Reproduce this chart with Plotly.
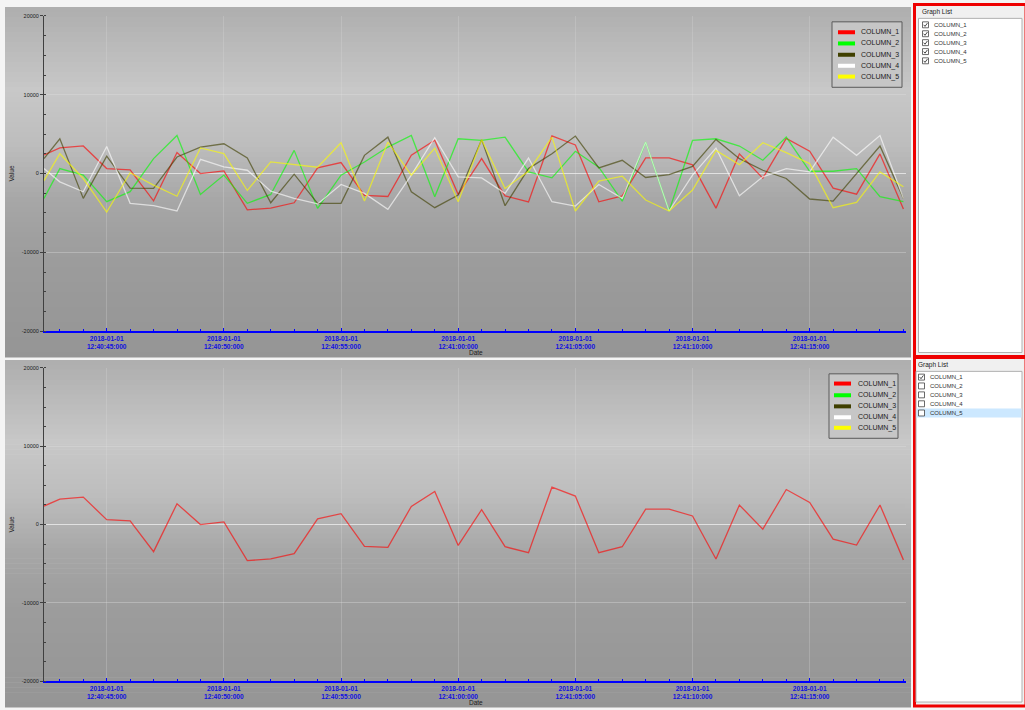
import plotly.graph_objects as go

# ---------------- data ----------------
DATE = "2018-01-01"
TIME_OF_DAY = ["12:40:42.324", "12:40:43", "12:40:44", "12:40:45", "12:40:46", "12:40:47",
               "12:40:48", "12:40:49", "12:40:50", "12:40:51", "12:40:52", "12:40:53",
               "12:40:54", "12:40:55", "12:40:56", "12:40:57", "12:40:58", "12:40:59",
               "12:41:00", "12:41:01", "12:41:02", "12:41:03", "12:41:04", "12:41:05",
               "12:41:06", "12:41:07", "12:41:08", "12:41:09", "12:41:10", "12:41:11",
               "12:41:12", "12:41:13", "12:41:14", "12:41:15", "12:41:16", "12:41:17",
               "12:41:18", "12:41:19"]

COLUMN_1 = [2360, 3250, 3500, 630, 460, -3460, 2660, 0, 340, -4600, -4390, -3710, 720, 1390,
            -2780, -2910, 2320, 4220, -2660, 1900, -2830, -3590, 4770, 3630, -3590, -2830,
            1980, 1980, 1100, -4390, 2490, -590, 4470, 2830, -1860, -2620, 2490, -4510]
COLUMN_2 = [-3150, 630, -200, -3570, -2300, 1900, 4830, -2650, -200, -3780, -2650, 2940, -4410,
            -200, 1470, 3360, 4830, -2940, 4410, 4200, 4620, 200, -550, 2820, 800, -3500,
            3990, -4750, 4200, 4410, 3490, 1680, 4620, 290, 290, 630, -2940, -3570]
COLUMN_3 = [1900, 4410, -3150, 2200, -1850, -1890, 2100, 3360, 3780, 1970, -3700, -80, -3780,
            -3780, 2310, 4620, -2310, -4330, -2730, 4300, -4080, 630, 2520, 4750, 710, 1680,
            -500, -130, 900, 4330, 1890, 420, -630, -3230, -3490, 0, 3490, -3150]
COLUMN_4 = [630, -1050, -2310, 3440, -3780, -4080, -4750, 1800, 840, 420, -2230, -3150, -3850,
            -1390, -2520, -4540, -200, 4540, -420, -550, -2520, 1970, -3570, -4120, -1390,
            -3150, 3990, -4750, -200, 3230, -2820, -420, 630, 210, 4620, 2310, 4830, -3150]
COLUMN_5 = [-900, 2520, -630, -4880, 100, -1470, -2880, 3250, 2520, -2150, 1470, 1150, 800,
            3900, -3490, 3990, -200, 3230, -3570, 4300, -1890, 300, 4620, -4750, -970, -340,
            -3360, -4750, -2100, 2940, 1130, 3910, 2650, 1260, -4330, -3650, 210, -1680]

SERIES_NAMES = ["COLUMN_1", "COLUMN_2", "COLUMN_3", "COLUMN_4", "COLUMN_5"]
SERIES_VALUES = [COLUMN_1, COLUMN_2, COLUMN_3, COLUMN_4, COLUMN_5]
SERIES_COLORS = ["#ff0000", "#00ff00", "#404000", "#ffffff", "#ffff00"]
CHECKED_TOP = [True, True, True, True, True]
CHECKED_BOTTOM = [True, False, False, False, False]

X_TICK_TIMES = ["12:40:45", "12:40:50", "12:40:55", "12:41:00", "12:41:05", "12:41:10", "12:41:15"]
X_RANGE_END = "12:41:19.11"
Y_TICK_VALUES = [-20000, -10000, 0, 10000, 20000]
Y_TICK_LABELS = ["-20000", "-10000", "0", "10000", "20000"]
X_TITLE = "Date"
Y_TITLE = "Value"
LIST_TITLE = "Graph List"

TIMES = [f"{DATE} {t}" for t in TIME_OF_DAY]

# ---------------- helpers ----------------
W, H = 1025, 710


def px(x):
    return x / W


def py(y):
    return 1 - y / H


FONT = "Liberation Sans, Arial, sans-serif"
shapes = []
annotations = []

# gradient panel backgrounds
STOPS = [(0.0, 174), (0.24, 200), (0.40, 188), (0.56, 166), (0.72, 156), (1.0, 149)]


def gray_at(f):
    for (f0, g0), (f1, g1) in zip(STOPS[:-1], STOPS[1:]):
        if f0 <= f <= f1:
            return g0 + (g1 - g0) * (f - f0) / (f1 - f0)
    return STOPS[-1][1]


def gradient_panel(x0, y0, x1, y1, n=70):
    h = (y1 - y0) / n
    for i in range(n):
        g = int(round(gray_at((i + 0.5) / n)))
        shapes.append(dict(type="rect", xref="paper", yref="paper", layer="below",
                           x0=px(x0), x1=px(x1), y0=py(y0 + i * h), y1=py(y0 + (i + 1) * h + 0.6),
                           fillcolor=f"rgb({g},{g},{g})", line=dict(width=0)))


gradient_panel(5, 4, 911, 357)
gradient_panel(5, 360, 911, 710)


def titles(axis_bottom, mid_y):
    annotations.append(dict(xref="paper", yref="paper", x=px(476), y=py(axis_bottom + 21.5),
                            xanchor="center", yanchor="middle", showarrow=False, text=X_TITLE,
                            font=dict(family=FONT, size=6.5, color="#202020")))
    annotations.append(dict(xref="paper", yref="paper", x=px(12), y=py(mid_y),
                            xanchor="center", yanchor="middle", showarrow=False, text=Y_TITLE,
                            textangle=-90, font=dict(family=FONT, size=6.5, color="#202020")))


titles(331, 172)
titles(684, 526)


def legend_box(x0, y0, x1, y1, rows, sw0, sw1, tx):
    shapes.append(dict(type="rect", xref="paper", yref="paper", layer="above",
                       x0=px(x0), x1=px(x1), y0=py(y1), y1=py(y0),
                       fillcolor="#c6c6c6", line=dict(color="#5a5a5a", width=1)))
    for name, color, ry in zip(SERIES_NAMES, SERIES_COLORS, rows):
        shapes.append(dict(type="line", xref="paper", yref="paper", layer="above",
                           x0=px(sw0), x1=px(sw1), y0=py(ry), y1=py(ry),
                           line=dict(color=color, width=4)))
        annotations.append(dict(xref="paper", yref="paper", x=px(tx), y=py(ry),
                                xanchor="left", yanchor="middle", showarrow=False,
                                text=name, font=dict(family=FONT, size=7, color="#202020")))


legend_box(832, 19, 902, 85, [29.5, 40.8, 52.2, 63.3, 74.2], 838, 855, 859)
legend_box(829, 374, 898, 439, [383.8, 395.6, 406.8, 417.8, 428.4], 834, 851, 855.5)


def graph_list(top, bottom, checked, label_x, box_x, chk_x, txt_x, rows, highlight=None):
    # red frame
    shapes.append(dict(type="rect", xref="paper", yref="paper", layer="above",
                       x0=px(914.5), x1=px(1026), y0=py(bottom), y1=py(top),
                       fillcolor="#f0f0f0", line=dict(color="#ee0000", width=3)))
    annotations.append(dict(xref="paper", yref="paper", x=px(label_x), y=py(top + 8),
                            xanchor="left", yanchor="middle", showarrow=False,
                            text=LIST_TITLE, font=dict(family=FONT, size=6.5, color="#202020")))
    shapes.append(dict(type="rect", xref="paper", yref="paper", layer="above",
                       x0=px(box_x), x1=px(1022), y0=py(bottom - 4), y1=py(top + 14),
                       fillcolor="#ffffff", line=dict(color="#b0b0b0", width=1)))
    if highlight is not None:
        ry = rows[highlight]
        shapes.append(dict(type="rect", xref="paper", yref="paper", layer="above",
                           x0=px(box_x + 0.5), x1=px(1021.5), y0=py(ry + 4.5), y1=py(ry - 4.5),
                           fillcolor="#cce8ff", line=dict(width=0)))
    s = 6
    for name, chk, ry in zip(SERIES_NAMES, checked, rows):
        cx0, cy0 = chk_x, ry - s / 2
        shapes.append(dict(type="rect", xref="paper", yref="paper", layer="above",
                           x0=px(cx0), x1=px(cx0 + s), y0=py(cy0 + s), y1=py(cy0),
                           fillcolor="#ffffff", line=dict(color="#444444", width=0.8)))
        if chk:
            path = (f"M{px(cx0 + 1.2)},{py(cy0 + 3.0)} L{px(cx0 + 2.5)},{py(cy0 + 4.6)} "
                    f"L{px(cx0 + 4.9)},{py(cy0 + 1.3)}")
            shapes.append(dict(type="path", xref="paper", yref="paper", layer="above",
                               path=path, line=dict(color="#333333", width=0.9)))
        annotations.append(dict(xref="paper", yref="paper", x=px(txt_x), y=py(ry),
                                xanchor="left", yanchor="middle", showarrow=False,
                                text=name, font=dict(family=FONT, size=6, color="#303030")))


graph_list(1.5, 356.5, CHECKED_TOP, 919.5, 918.5, 922.5, 932, [22, 31, 40, 49, 58.3])
graph_list(357.5, 709, CHECKED_BOTTOM, 916, 916, 918.5, 928, [377.3, 386.2, 395.2, 404.2, 413.5],
           highlight=4)

# ---------------- traces ----------------
fig = go.Figure()
for name, vals, color, on in zip(SERIES_NAMES, SERIES_VALUES, SERIES_COLORS, CHECKED_TOP):
    if on:
        fig.add_trace(go.Scatter(x=TIMES, y=vals, name=name, mode="lines", showlegend=False,
                                 line=dict(color=color, width=1.3), opacity=0.62,
                                 xaxis="x", yaxis="y"))
for name, vals, color, on in zip(SERIES_NAMES, SERIES_VALUES, SERIES_COLORS, CHECKED_BOTTOM):
    if on:
        fig.add_trace(go.Scatter(x=TIMES, y=vals, name=name, mode="lines", showlegend=False,
                                 line=dict(color=color, width=1.3), opacity=0.62,
                                 xaxis="x2", yaxis="y2"))

x_range = [TIMES[0], f"{DATE} {X_RANGE_END}"]
tickvals = [f"{DATE} {t}" for t in X_TICK_TIMES]


def xaxis(domain_anchor):
    return dict(
        domain=[px(44), px(906)], anchor=domain_anchor, type="date", range=x_range,
        tickmode="array", tickvals=tickvals, tickformat="%Y-%m-%d<br>%H:%M:%S:000",
        tickfont=dict(family="Liberation Sans Narrow, Liberation Sans, Arial", size=6.6,
                      color="#1010e0", weight="bold"),
        ticks="inside", ticklen=3, tickcolor="#0000ff", tickwidth=1,
        minor=dict(dtick=1000, ticks="inside", ticklen=2, tickcolor="#0000ff", showgrid=False),
        showline=True, linecolor="#0000ff", linewidth=1.5,
        showgrid=True, gridcolor="rgba(225,225,225,0.25)", gridwidth=1, zeroline=False,
        fixedrange=True,
    )


def yaxis(domain, anchor):
    return dict(
        domain=domain, anchor=anchor, range=[-20000, 20000],
        tickmode="array", tickvals=Y_TICK_VALUES, ticktext=Y_TICK_LABELS,
        tickfont=dict(family=FONT, size=5.5, color="#202020"),
        ticks="outside", ticklen=3, tickcolor="#404040",
        minor=dict(dtick=2500, ticks="inside", ticklen=2, tickcolor="#404040", showgrid=False),
        showline=True, linecolor="#404040", linewidth=1,
        showgrid=True, gridcolor="rgba(225,225,225,0.35)", gridwidth=1,
        zeroline=True, zerolinecolor="rgba(238,238,238,0.8)", zerolinewidth=1,
        fixedrange=True,
    )


fig.update_layout(
    width=W, height=H, autosize=False,
    margin=dict(l=0, r=0, t=0, b=0),
    paper_bgcolor="#f4f4f4", plot_bgcolor="rgba(0,0,0,0)",
    showlegend=False,
    xaxis=xaxis("y"),
    yaxis=yaxis([py(331), py(13)], "x"),
    xaxis2=xaxis("y2"),
    yaxis2=yaxis([py(684), py(368)], "x2"),
    shapes=shapes, annotations=annotations,
    font=dict(family=FONT),
)

fig.write_html("out.html", config={"displayModeBar": False},
               post_script="document.body.style.margin='0px';")
